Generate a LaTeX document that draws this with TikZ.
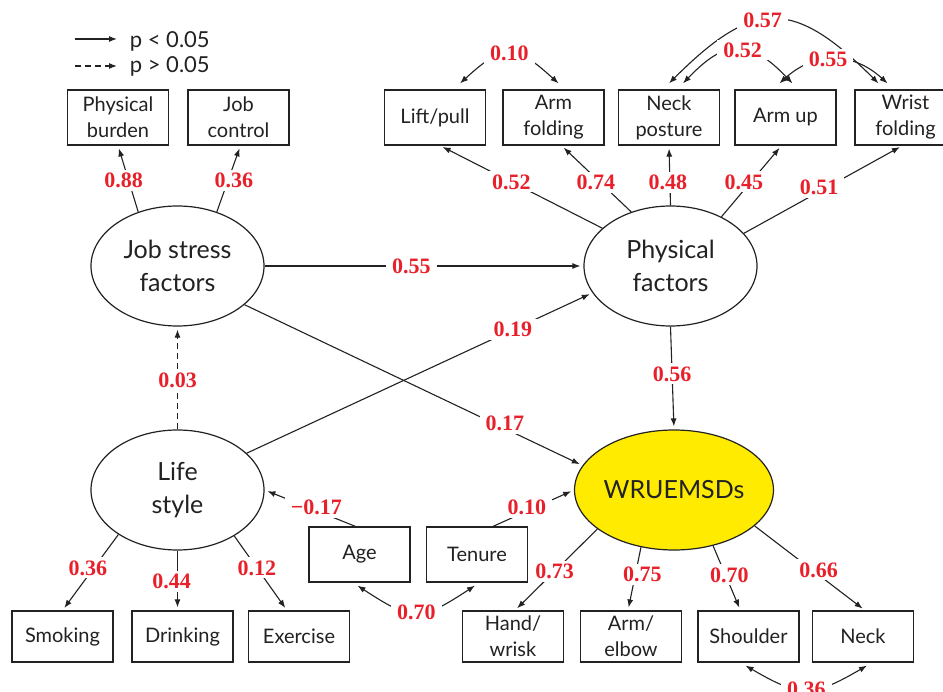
\documentclass[tikz,border=0pt]{standalone}
\usepackage{fontspec}
\setmainfont{Lato}
\newfontfamily\numfont{Liberation Serif}
\usetikzlibrary{shapes.geometric,arrows.meta}
\definecolor{ink}{HTML}{222222}
\definecolor{coefred}{HTML}{E8202A}
\definecolor{wruyellow}{HTML}{FFEB00}

\begin{document}
\begin{tikzpicture}[x=1pt,y=-1pt,line width=1.1pt,color=ink,
  box/.style={draw=ink,line width=1.2pt,minimum width=101pt,minimum height=55pt,inner sep=1pt,align=center,font=\fontsize{20}{26}\selectfont},
  lowbox/.style={box,minimum height=51pt},
  latent/.style={ellipse,draw=ink,line width=1.2pt,minimum width=173pt,minimum height=120pt,inner sep=0pt,align=center,font=\fontsize{25}{33}\selectfont},
  coef/.style={fill=white,text=coefred,inner xsep=6pt,inner ysep=3pt,font=\fontsize{22}{22}\selectfont\numfont\bfseries},
  eff/.style={-{Latex[length=8pt,width=6pt]},shorten >=3pt},
  ns/.style={eff,dash pattern=on 6pt off 4pt},
  cov/.style={{Latex[length=8pt,width=6pt]}-{Latex[length=8pt,width=6pt]}}]

\path[use as bounding box,fill=white] (0,0) rectangle (943,692);

% legend
\coordinate (leg1) at (75,39);
\coordinate (leg1e) at (117,39);
\coordinate (leg2) at (75,66);
\coordinate (leg2e) at (117,66);
\draw[eff,shorten >=0pt] (leg1) -- (leg1e);
\draw[ns,shorten >=0pt] (leg2) -- (leg2e);
\node[anchor=west,font=\fontsize{22}{22}\selectfont] (sig) at (126,41) {p < 0.05};
\node[anchor=west,font=\fontsize{22}{22}\selectfont] (nsig) at (126,66) {p > 0.05};

% boxes
\foreach \nm/\x/\txt in {pb/118/{Physical\\burden}, jc/238.5/{Job\\control}, lift/435/{Lift/pull},
    af/553.5/{Arm\\folding}, np/669/{Neck\\posture}, au/785.5/{Arm up}, wf/905.5/{Wrist\\folding}}
  \node[box] (\nm) at (\x,117.5) {\txt};
\foreach \nm/\x/\txt in {smk/62.5/{Smoking}, drk/182.5/{Drinking}, exc/299/{Exercise},
    hand/513/{Hand/\\wrisk}, arm/631/{Arm/\\elbow}, sho/748.5/{Shoulder}, nck/863/{Neck}}
  \node[lowbox] (\nm) at (\x,636.5) {\txt};
\node[box] (age) at (359.5,554.5) {Age};
\node[box] (ten) at (477,554.5) {Tenure};

\node[latent] (jsf) at (177.5,266) {Job stress\\factors};
\node[latent] (phy) at (670.5,266) {Physical\\factors};
\node[latent] (life) at (177.5,490) {Life\\style};
\node[latent,fill=wruyellow] (wru) at (674,490) {WRUEMSDs};

% job stress factors
\draw[eff] (jsf.126) -- node[coef,pos=.47,xshift=-5pt] (w1) {0.88} (pb.south);
\draw[eff] (jsf.54) -- node[coef,pos=.47,xshift=6pt] (w2) {0.36} ([xshift=2pt]jc.south);
\draw[eff] (jsf.east) -- node[coef,pos=.46] (w3) {0.55} (phy.west);
\draw[eff] (jsf.330) -- node[coef,pos=.77,yshift=5pt] (w4) {0.17} (wru.165);

% life style
\draw[ns] (life.north) -- node[coef,pos=.48] (w5) {0.03} (jsf.south);
\draw[eff] (life.28) -- node[coef,pos=.77] (w6) {0.19} (phy.199);
\draw[eff] (life.217) -- node[coef,pos=.44,xshift=-6pt] (w13) {0.36} (smk.north);
\draw[eff] (life.south) -- node[coef,pos=.52,xshift=-6pt] (w14) {0.44} ([xshift=-5pt]drk.north);
\draw[eff] (life.321) -- node[coef,pos=.43] (w15) {0.12} ([xshift=-12pt]exc.north);
\draw[eff] ([xshift=-4pt]age.north) -- node[coef,pos=.43,yshift=3pt] (w16) {−0.17} (life.east);
\draw[cov] ([xshift=-2pt,yshift=-3pt]age.south) .. controls +(55,36) and +(-55,36) .. ([xshift=-2pt,yshift=-3pt]ten.south) node[coef,pos=.5] (w17) {0.70};

% physical factors
\draw[eff] (phy.south) -- node[coef,pos=.46] (w7) {0.56} (wru.north);
\draw[eff] (phy.151) -- node[coef,pos=.56] (w8) {0.52} ([xshift=5pt]lift.south);
\draw[eff] (phy.126) -- node[coef,pos=.45,xshift=-4pt] (w9) {0.74} ([xshift=8pt]af.south);
\draw[eff] (phy.north) -- node[coef,pos=.39,xshift=-2pt] (w10) {0.48} (np.south);
\draw[eff] (phy.44) -- node[coef,pos=.49,xshift=-7pt] (w11) {0.45} ([xshift=-4pt]au.south);
\draw[eff] (phy.24) -- node[coef,pos=.475,yshift=4pt] (w12) {0.51} ([xshift=-3pt]wf.south);

% correlated errors
\draw[cov] ([xshift=25pt,yshift=6pt]lift.north) .. controls +(44,-40) and +(-44,-40) .. ([xshift=5pt,yshift=6pt]af.north) node[coef,pos=.5] (w24) {0.10};
\draw[cov] ([yshift=6pt]np.north) .. controls +(85,-85) and +(-85,-85) .. ([xshift=-27pt,yshift=6pt]wf.north) node[coef,pos=.44] (w25) {0.57};
\draw[cov] ([xshift=14pt,yshift=6pt]np.north) .. controls +(43,-45) and +(-43,-45) .. ([xshift=7pt,yshift=6pt]au.north) node[coef,pos=.55] (w26) {0.52};
\draw[cov] ([xshift=-6pt,yshift=6pt]au.north) .. controls +(35,-32) and +(-35,-32) .. ([xshift=-18pt,yshift=6pt]wf.north) node[coef,pos=.45] (w27) {0.55};

% WRUEMSDs
\draw[eff] ([xshift=16pt]ten.north) -- node[coef,pos=.42,yshift=4pt] (w18) {0.10} (wru.180);
\draw[eff] (wru.207) -- node[coef,pos=.52] (w19) {0.73} ([xshift=2pt]hand.north);
\draw[eff] (wru.240) -- node[coef,pos=.43,xshift=7pt] (w20) {0.75} ([xshift=-3pt]arm.north);
\draw[eff] (wru.305) -- node[coef,pos=.45,xshift=4pt] (w21) {0.70} ([xshift=-8pt]sho.north);
\draw[eff] (wru.336) -- node[coef,pos=.58,yshift=5pt] (w22) {0.66} ([xshift=2pt]nck.north);
\draw[cov] ([xshift=-3pt,yshift=-3pt]sho.south) .. controls +(55,32) and +(-55,32) .. ([xshift=4pt,yshift=-3pt]nck.south) node[coef,pos=.5] (w23) {0.36};

\end{tikzpicture}
\end{document}
